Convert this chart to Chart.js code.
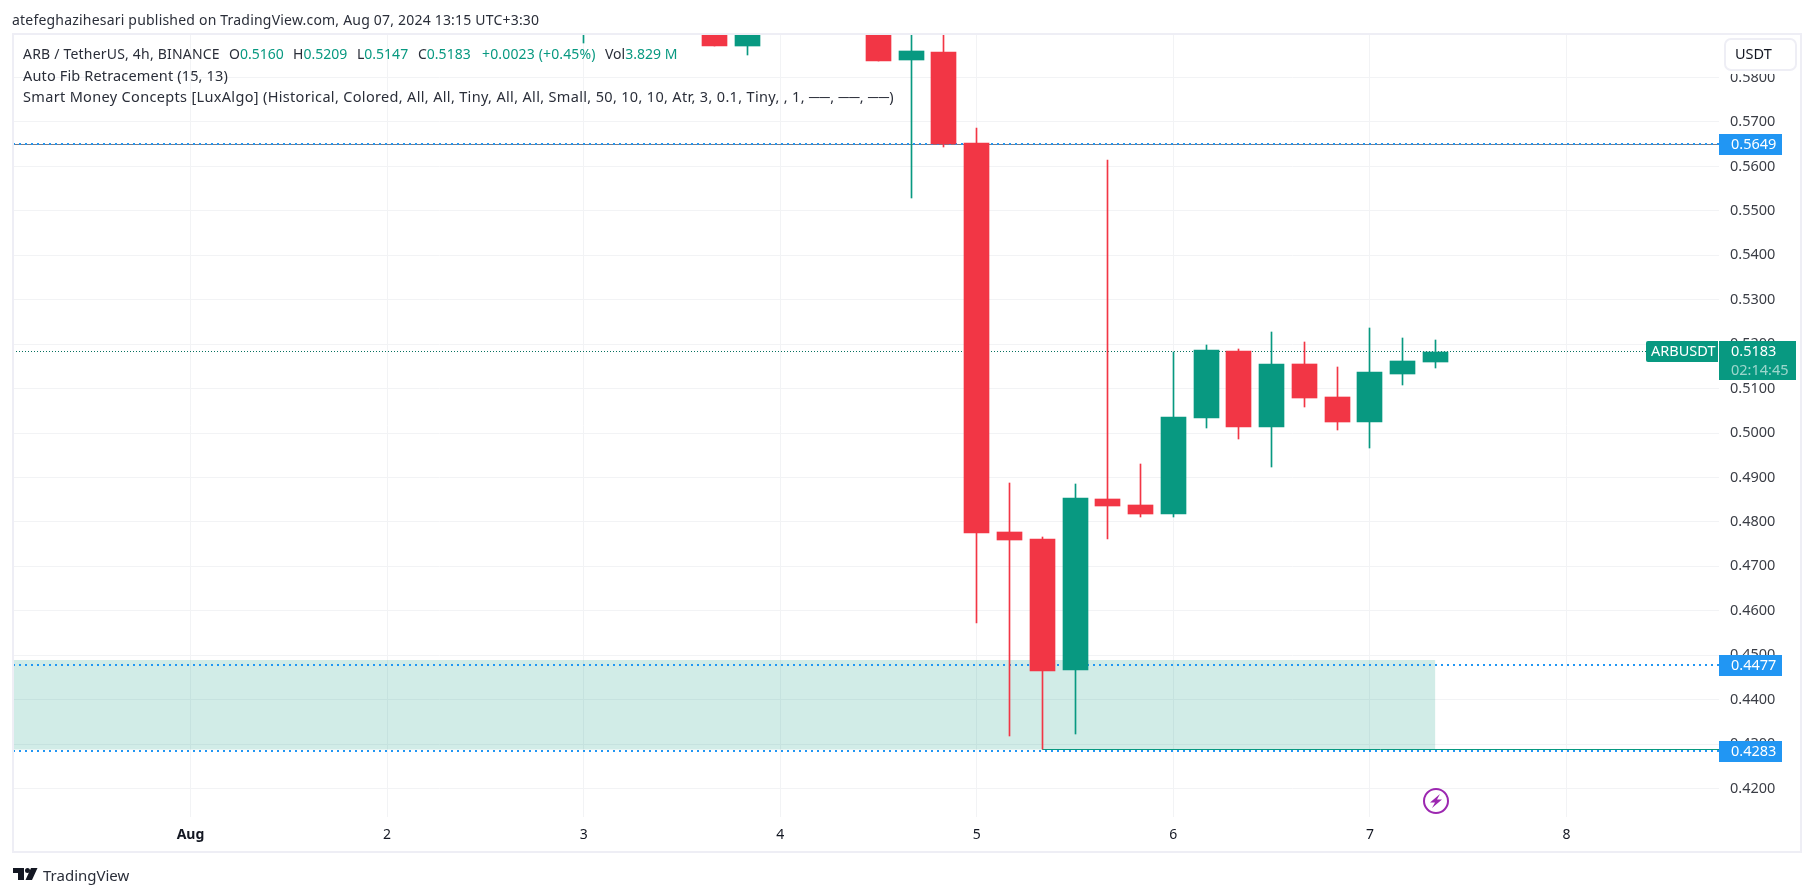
<!DOCTYPE html>
<html>
<head>
<meta charset="utf-8">
<title>ARBUSDT</title>
<script src="https://cdn.jsdelivr.net/npm/chart.js@4"></script>
<style>
  html, body { margin: 0; padding: 0; background: #fff; overflow: hidden; }
  body { width: 1814px; height: 896px; position: relative; font-family: "Noto Sans", sans-serif; color: #2a2e39; }
  canvas { position: absolute; left: 0; top: 0; }
  .abs { position: absolute; white-space: nowrap; }
  #frame { left: 12px; top: 33px; width: 1790px; height: 820px; border: 2px solid #eeeef5; box-sizing: border-box; }
  #published { left: 12px; top: 10px; font-size: 14px; line-height: 20px; letter-spacing: 0.2px; }
  .legend { left: 23px; font-size: 14px; line-height: 20px; }
  .legend span { position: absolute; top: 0; }
  .legend b { font-weight: normal; color: #089981; }
  #brand { left: 43px; top: 864px; font-size: 15px; line-height: 22px; color: #2a2e39; }
</style>
</head>
<body>
<canvas id="grafica" width="1814" height="896"></canvas>
<div class="abs" id="frame"></div>
<div class="abs" id="published">atefeghazihesari published on TradingView.com, Aug 07, 2024 13:15 UTC+3:30</div>
<div class="abs legend" style="top:44px;width:700px;height:20px">
  <span style="left:0;letter-spacing:0.2px">ARB / TetherUS, 4h, BINANCE</span>
  <span style="left:206px">O<b>0.5160</b></span>
  <span style="left:270px">H<b>0.5209</b></span>
  <span style="left:334px">L<b>0.5147</b></span>
  <span style="left:395px">C<b>0.5183</b></span>
  <span style="left:459px;letter-spacing:0.15px"><b>+0.0023 (+0.45%)</b></span>
  <span style="left:582px">Vol<b>3.829 M</b></span>
</div>
<div class="abs legend" style="top:65px;font-size:14.5px;letter-spacing:0.15px">Auto Fib Retracement (15, 13)</div>
<div class="abs legend" style="top:86px;font-size:14.5px;letter-spacing:0.33px">Smart Money Concepts [LuxAlgo] (Historical, Colored, All, All, Tiny, All, All, Small, 50, 10, 10, Atr, 3, 0.1, Tiny, , 1, ──, ──, ──)</div>
<svg class="abs" style="left:13px;top:868px" width="25" height="12" viewBox="0 0 25 12">
  <path d="M0 0H11V12H5V5H0Z M24.5 0L19 12H12.5L18 0Z" fill="#131722"/>
  <circle cx="14.5" cy="2.5" r="2.5" fill="#131722"/>
</svg>
<div class="abs" id="brand">TradingView</div>
<svg class="abs" style="left:1421px;top:786px" width="30" height="30" viewBox="-15 -15 30 30">
  <circle r="12" fill="#fff" stroke="#9c27b0" stroke-width="2"/>
  <path d="M4 -7L-6 1.5H-1L-4 7L6 -1.5H1Z" fill="#9c27b0"/>
</svg>
<script>
// time axis is in days of August 2024, one candle every 4h
const candleDay = [3, 3.667, 3.833, 4.5, 4.667, 4.833, 5, 5.167, 5.333, 5.5, 5.667, 5.833, 6, 6.167, 6.333, 6.5, 6.667, 6.833, 7, 7.167, 7.333];
const openPrice = [0.5920, 0.6000, 0.5870, 0.5925, 0.5839, 0.5857, 0.5652, 0.4777, 0.4761, 0.4466, 0.4851, 0.4838, 0.4817, 0.5033, 0.5184, 0.5013, 0.5155, 0.5080, 0.5024, 0.5132, 0.5160];
const highPrice = [0.5980, 0.6050, 0.5930, 0.5940, 0.5950, 0.5920, 0.5686, 0.4887, 0.4765, 0.4885, 0.5614, 0.4930, 0.5183, 0.5197, 0.5188, 0.5227, 0.5204, 0.5148, 0.5236, 0.5213, 0.5209];
const lowPrice = [0.5877, 0.5870, 0.5850, 0.5837, 0.5529, 0.5644, 0.4573, 0.4318, 0.4288, 0.4322, 0.4761, 0.4810, 0.4810, 0.5011, 0.4986, 0.4923, 0.5058, 0.5006, 0.4966, 0.5107, 0.5147];
const closePrice = [0.5960, 0.5870, 0.5915, 0.5837, 0.5859, 0.5650, 0.4774, 0.4759, 0.4464, 0.4853, 0.4835, 0.4818, 0.5035, 0.5186, 0.5013, 0.5155, 0.5079, 0.5024, 0.5137, 0.5161, 0.5183];

const dayTicks = [1, 2, 3, 4, 5, 6, 7, 8];
const priceTicks = [0.42, 0.43, 0.44, 0.45, 0.46, 0.47, 0.48, 0.49, 0.50, 0.51, 0.52, 0.53, 0.54, 0.55, 0.56, 0.57, 0.58];

const xStart = 0.097;
const xEnd = 8.7758;
const yMin = 0.41359;
const yMax = 0.58979;

const lastPrice = 0.5183;
const fibLevels = [0.5649, 0.4477, 0.4283];
const zoneDays = [xStart, 7.333];
const zoneTop = 0.4487;
const zoneBottom = 0.4288;
const supportStart = 5.333;

const upColor = '#089981';
const downColor = '#f23645';
const candleColors = closePrice.map((c, i) => (c >= openPrice[i] ? upColor : downColor));

const bodies = candleDay.map((d, i) => ({ x: d, y: [openPrice[i], closePrice[i]] }));
const wicks = candleDay.map((d, i) => ({ x: d, y: [lowPrice[i], highPrice[i]] }));

function hline(x0, x1, y, color, width, dash, order) {
    return {
        type: 'line',
        data: [{ x: x0, y: y }, { x: x1, y: y }],
        borderColor: color,
        borderWidth: width,
        borderDash: dash,
        pointRadius: 0,
        order: order
    };
}

const zone = {
    type: 'line',
    data: [{ x: zoneDays[0], y: zoneTop }, { x: zoneDays[1], y: zoneTop }],
    borderWidth: 0,
    pointRadius: 0,
    fill: { value: zoneBottom },
    backgroundColor: 'rgba(8, 153, 129, 0.19)',
    order: 9
};

const wickSet = { type: 'bar', data: wicks, backgroundColor: candleColors, barThickness: 1, grouped: false, order: 2 };
const bodySet = { type: 'bar', data: bodies, backgroundColor: candleColors, barThickness: 25, grouped: false, order: 1 };

// keeps candle edges and level lines on whole pixels
const snapMarks = {
    id: 'snapMarks',
    afterDatasetsUpdate(chart) {
        chart.data.datasets.forEach((ds, i) => {
            const els = chart.getDatasetMeta(i).data;
            if (ds.type === 'bar') {
                els.forEach(el => {
                    el.x = Math.floor(el.x) + 0.5;
                    el.y = Math.round(el.y);
                    el.base = Math.round(el.base);
                });
            } else {
                els.forEach(el => {
                    el.y = ds.borderWidth === 1 ? Math.floor(el.y) + 0.5 : Math.floor(el.y);
                });
            }
        });
    }
};

// price tags and the currency button on top of the price scale
const priceTags = {
    id: 'priceTags',
    afterDraw(chart) {
        const ctx = chart.ctx;
        const y = chart.scales.y;
        ctx.save();
        ctx.textBaseline = 'middle';
        ctx.font = '14.5px "Noto Sans"';

        fibLevels.forEach(v => {
            const py = Math.floor(y.getPixelForValue(v)) + 0.5;
            ctx.fillStyle = '#2196f3';
            ctx.fillRect(1719, py - 10.5, 63, 21);
            ctx.fillStyle = '#fff';
            ctx.fillText(v.toFixed(4), 1731, py);
        });

        const py = Math.floor(y.getPixelForValue(lastPrice)) + 0.5;
        ctx.fillStyle = upColor;
        ctx.fillRect(1719, py - 10.5, 77, 39);
        ctx.beginPath();
        ctx.roundRect(1646, py - 10.5, 72, 21, [2, 0, 0, 2]);
        ctx.fill();
        ctx.fillStyle = '#fff';
        ctx.fillText('ARBUSDT', 1651, py);
        ctx.fillText(lastPrice.toFixed(4), 1731, py);
        ctx.fillStyle = 'rgba(255, 255, 255, 0.6)';
        ctx.fillText('02:14:45', 1731, py + 19);

        ctx.fillStyle = '#fff';
        ctx.fillRect(1720, 35, 80, 39);
        ctx.strokeStyle = '#eeeef5';
        ctx.lineWidth = 2;
        ctx.beginPath();
        ctx.roundRect(1725, 39, 71, 31, 6);
        ctx.fill();
        ctx.stroke();
        ctx.fillStyle = '#131722';
        ctx.fillText('USDT', 1735, 55);
        ctx.restore();
    }
};

const graph = document.querySelector('#grafica');

new Chart(graph, {
    type: 'bar',
    data: {
        datasets: [
            bodySet,
            wickSet,
            zone,
            hline(xStart, xEnd, lastPrice, '#06705f', 1, [1, 2], 5),
            hline(xStart, xEnd, fibLevels[0], '#787b86', 1, [], 6),
            hline(xStart, xEnd, fibLevels[0], '#2196f3', 2, [2, 4], 5),
            hline(xStart, xEnd, fibLevels[1], '#2196f3', 2, [2, 4], 5),
            hline(xStart, xEnd, fibLevels[2], '#2196f3', 2, [2, 4], 5),
            hline(supportStart, xEnd, zoneBottom, upColor, 1, [], 6)
        ]
    },
    options: {
        responsive: false,
        animation: false,
        layout: { padding: { left: 13, top: 34, right: 0, bottom: 0 } },
        plugins: { legend: { display: false }, tooltip: { enabled: false }, title: { display: false } },
        scales: {
            x: {
                type: 'linear',
                min: xStart,
                max: xEnd,
                offset: false,
                border: { display: false },
                grid: { color: '#f2f3f5', offset: false, drawTicks: false },
                afterBuildTicks: s => { s.ticks = dayTicks.map(v => ({ value: v })); },
                afterFit: s => { s.height = 79; },
                ticks: {
                    padding: 10,
                    color: '#131722',
                    maxRotation: 0,
                    autoSkip: false,
                    font: c => ({ size: 14, family: '"Noto Sans"', weight: c.tick && c.tick.value === 1 ? 'bold' : 'normal' }),
                    callback: v => (v === 1 ? 'Aug' : String(v))
                }
            },
            y: {
                type: 'linear',
                position: 'right',
                min: yMin,
                max: yMax,
                beginAtZero: false,
                border: { display: false },
                grid: { color: '#f2f3f5', drawTicks: false },
                afterBuildTicks: s => { s.ticks = priceTicks.map(v => ({ value: v })); },
                afterFit: s => { s.width = 95; },
                ticks: {
                    padding: 11,
                    color: '#3a3d45',
                    font: { size: 14.5, family: '"Noto Sans"' },
                    callback: v => v.toFixed(4)
                }
            }
        }
    },
    plugins: [snapMarks, priceTags]
});
</script>
</body>
</html>
